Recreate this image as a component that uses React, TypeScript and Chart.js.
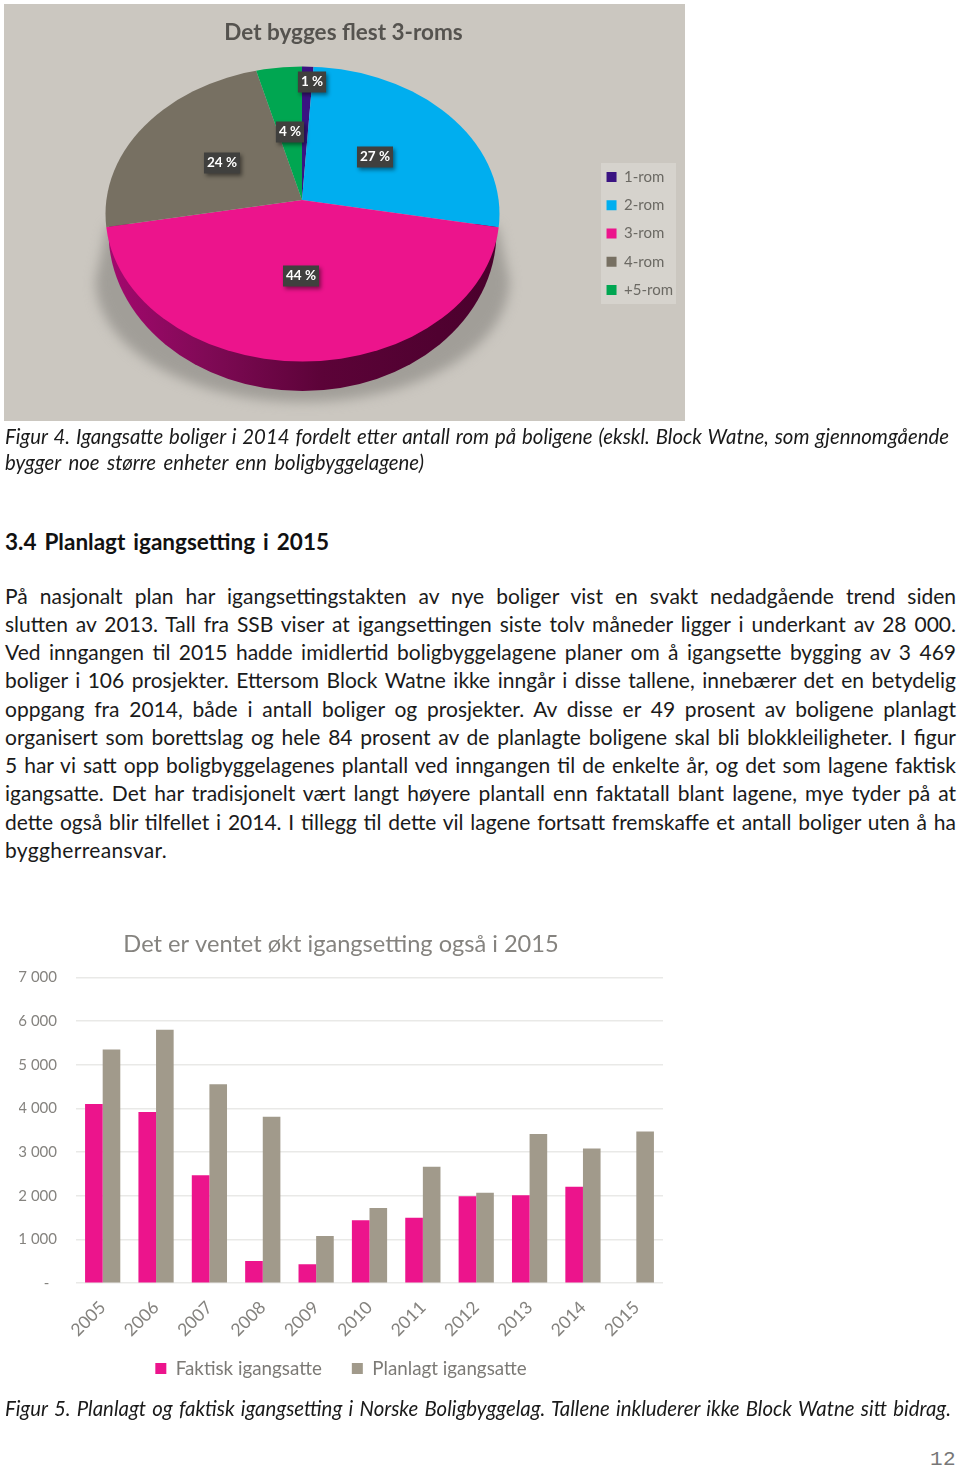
import React, { useEffect, useLayoutEffect, useRef } from "react";
import { Chart, registerables } from "chart.js";

Chart.register(...registerables);

// ---------- data ----------
const roomCategories = ["1-rom", "2-rom", "3-rom", "4-rom", "+5-rom"];
const roomShares = [1, 27, 44, 24, 4];
const roomColors = ["#3a1382", "#00aeef", "#ec148c", "#777062", "#00a651"];

const years = ["2005", "2006", "2007", "2008", "2009", "2010", "2011", "2012", "2013", "2014", "2015"];
const actualStarts = [4100, 3920, 2470, 510, 435, 1440, 1500, 1990, 2010, 2210, null];
const plannedStarts = [5350, 5800, 4555, 3810, 1080, 1720, 2665, 2070, 3415, 3080, 3469];

const captionFour = [
  "Figur 4. Igangsatte boliger i 2014 fordelt etter antall rom på boligene (ekskl. Block Watne, som gjennomgående",
  "bygger noe større enheter enn boligbyggelagene)",
];
const heading = "3.4 Planlagt igangsetting i 2015";
const bodyLines = [
  "På nasjonalt plan har igangsettingstakten av nye boliger vist en svakt nedadgående trend siden",
  "slutten av 2013. Tall fra SSB viser at igangsettingen siste tolv måneder ligger i underkant av 28 000.",
  "Ved inngangen til 2015 hadde imidlertid boligbyggelagene planer om å igangsette bygging av 3 469",
  "boliger i 106 prosjekter. Ettersom Block Watne ikke inngår i disse tallene, innebærer det en betydelig",
  "oppgang fra 2014, både i antall boliger og prosjekter. Av disse er 49 prosent av boligene planlagt",
  "organisert som borettslag og hele 84 prosent av de planlagte boligene skal bli blokkleiligheter. I figur",
  "5 har vi satt opp boligbyggelagenes plantall ved inngangen til de enkelte år, og det som lagene faktisk",
  "igangsatte. Det har tradisjonelt vært langt høyere plantall enn faktatall blant lagene, mye tyder på at",
  "dette også blir tilfellet i 2014. I tillegg til dette vil lagene fortsatt fremskaffe et antall boliger uten å ha",
  "byggherreansvar.",
];
const captionFive = "Figur 5. Planlagt og faktisk igangsetting i Norske Boligbyggelag. Tallene inkluderer ikke Block Watne sitt bidrag.";

// ---------- layout (pie panel coordinates) ----------
const PANEL = { x: 4, y: 4, w: 681, h: 417 };
const APEX = { x: 298, y: 196, sx: 200, sy: 145, over: 1.3 };
const TOP_FACE = { x: 298.5, y: 210, rx: 197, ry: 147.5 };
const WALL = { x: 298.5, y: 228, rx: 194, ry: 159 };
const SHADOW = { top: 222, edgeTopX: 195, edgeY: 276, rx: 207, ry: 122, blur: 6 };
const LABEL_SPOTS = [
  { x: 308, y: 78 },
  { x: 371, y: 153 },
  { x: 297, y: 272 },
  { x: 218, y: 159 },
  { x: 286, y: 128 },
];
const BAR_LEGEND_LIFT = 39;

const FONT = "Lato, sans-serif";

const piePerspective = {
  id: "piePerspective",
  beforeDraw(chart: any) {
    const { ctx, legend } = chart;
    ctx.save();
    ctx.fillStyle = "#cbc7c0";
    ctx.fillRect(0, 0, chart.width, chart.height);
    if (legend) {
      ctx.fillStyle = "#d6d3cd";
      ctx.fillRect(597, 159, 75, 141);
    }
    ctx.restore();
  },
  beforeDatasetsDraw(chart: any) {
    const { ctx } = chart;
    const g = ctx.createLinearGradient(WALL.x - WALL.rx, 0, WALL.x + WALL.rx, 0);
    g.addColorStop(0, "#a3086e");
    g.addColorStop(0.25, "#800a56");
    g.addColorStop(0.55, "#5c0338");
    g.addColorStop(1, "#4a002c");
    // ground shadow: a wedge on each side, then soft below the wall
    ctx.save();
    ctx.filter = `blur(${SHADOW.blur}px)`;
    ctx.fillStyle = "#a19e98";
    ctx.beginPath();
    ctx.moveTo(WALL.x - SHADOW.edgeTopX, SHADOW.top);
    ctx.lineTo(WALL.x - SHADOW.rx, SHADOW.edgeY);
    ctx.ellipse(WALL.x, SHADOW.edgeY, SHADOW.rx, SHADOW.ry, 0, Math.PI, 0, true);
    ctx.lineTo(WALL.x + SHADOW.edgeTopX, SHADOW.top);
    ctx.closePath();
    ctx.fill();
    ctx.restore();
    ctx.save();
    ctx.beginPath();
    ctx.ellipse(WALL.x, WALL.y, WALL.rx, WALL.ry, 0, 0, Math.PI * 2);
    ctx.clip();
    ctx.fillStyle = g;
    ctx.fillRect(WALL.x - WALL.rx, TOP_FACE.y + 10, WALL.rx * 2, WALL.ry * 2);
    ctx.restore();
  },
  beforeDatasetDraw(chart: any, args: any) {
    const arc = chart.getDatasetMeta(args.index).data[0];
    const { ctx } = chart;
    ctx.save();
    ctx.beginPath();
    ctx.ellipse(TOP_FACE.x, TOP_FACE.y, TOP_FACE.rx, TOP_FACE.ry, 0, 0, Math.PI * 2);
    ctx.clip();
    ctx.translate(APEX.x, APEX.y);
    ctx.scale((APEX.over * APEX.sx) / arc.outerRadius, (APEX.over * APEX.sy) / arc.outerRadius);
    ctx.translate(-arc.x, -arc.y);
  },
  afterDatasetDraw(chart: any) {
    chart.ctx.restore();
  },
  afterDatasetsDraw(chart: any) {
    const { ctx } = chart;
    const values = chart.data.datasets[0].data as number[];
    ctx.save();
    ctx.font = `bold 13.5px ${FONT}`;
    ctx.textAlign = "center";
    ctx.textBaseline = "middle";
    values.forEach((v, i) => {
      const text = `${v} %`;
      const spot = LABEL_SPOTS[i];
      const w = ctx.measureText(text).width + 6;
      const h = 21;
      ctx.save();
      ctx.shadowColor = "rgba(0,0,0,0.45)";
      ctx.shadowBlur = 4;
      ctx.shadowOffsetX = 2;
      ctx.shadowOffsetY = 2;
      ctx.fillStyle = "#40403e";
      ctx.fillRect(spot.x - w / 2, spot.y - h / 2, w, h);
      ctx.restore();
      ctx.fillStyle = "#ffffff";
      ctx.fillText(text, spot.x, spot.y);
    });
    ctx.restore();
  },
};

// the legend's wide item gap also widens its box; keep the axis labels clear of it
const liftBarLegend = {
  id: "liftBarLegend",
  afterLayout(chart: any) {
    chart.legend.top -= BAR_LEGEND_LIFT;
    chart.legend.bottom -= BAR_LEGEND_LIFT;
  },
};

function PieCanvas() {
  const ref = useRef<HTMLCanvasElement>(null);
  useEffect(() => {
    const chart = new Chart(ref.current!, {
      type: "pie",
      data: {
        labels: roomCategories,
        datasets: [{ data: roomShares, backgroundColor: roomColors, borderWidth: 0, clip: false } as any],
      },
      options: {
        animation: false,
        responsive: false,
        layout: { padding: { top: 0, right: 2, bottom: 0, left: 0 } },
        plugins: {
          title: {
            display: true,
            text: "Det bygges flest 3-roms",
            color: "#55534f",
            font: { family: FONT, size: 22.5, weight: "bold" },
            padding: { top: 15, bottom: 0 },
          },
          legend: {
            position: "right",
            fullSize: false,
            labels: {
              color: "#6b6963",
              font: { family: FONT, size: 15 },
              boxWidth: 10,
              boxHeight: 10,
              padding: 13.2,
            },
          },
          tooltip: { enabled: false },
        },
      },
      plugins: [piePerspective],
    } as any);
    return () => chart.destroy();
  }, []);
  return (
    <canvas
      ref={ref}
      width={PANEL.w}
      height={PANEL.h}
      style={{ position: "absolute", left: PANEL.x, top: PANEL.y, width: PANEL.w, height: PANEL.h }}
    />
  );
}

function BarCanvas() {
  const ref = useRef<HTMLCanvasElement>(null);
  useEffect(() => {
    const chart = new Chart(ref.current!, {
      type: "bar",
      data: {
        labels: years,
        datasets: [
          { label: "Faktisk igangsatte", data: actualStarts, backgroundColor: "#ec148c" },
          { label: "Planlagt igangsatte", data: plannedStarts, backgroundColor: "#a19a8b" },
        ],
      },
      options: {
        animation: false,
        responsive: false,
        layout: { padding: { top: 0, right: 17, bottom: 0, left: 19 } },
        datasets: { bar: { categoryPercentage: 0.66, barPercentage: 1 } },
        scales: {
          x: {
            grid: { display: false },
            border: { display: false },
            ticks: {
              color: "#85837f",
              font: { family: FONT, size: 17.5 },
              maxRotation: 45,
              minRotation: 45,
              padding: 6,
            },
            afterFit(s: any) {
              s.height = 85;
            },
          },
          y: {
            min: 0,
            max: 7000,
            grid: { color: "#e9e9e7", lineWidth: 1.5, tickLength: 0 },
            border: { display: false },
            ticks: {
              stepSize: 1000,
              color: "#85837f",
              font: { family: FONT, size: 15 },
              padding: 19,
              callback: (v: any) =>
                v === 0 ? "-  " : `${Math.floor(v / 1000)} ${String(v % 1000).padStart(3, "0")}`,
            },
            afterFit(s: any) {
              s.width = 57;
            },
          },
        },
        plugins: {
          title: {
            display: true,
            text: "Det er ventet økt igangsetting også i 2015",
            color: "#85837f",
            font: { family: FONT, size: 23.6, weight: "normal" },
            padding: { top: 4, bottom: 19 },
          },
          legend: {
            position: "bottom",
            labels: {
              color: "#7c7a76",
              font: { family: FONT, size: 18.8 },
              boxWidth: 11,
              boxHeight: 11,
              padding: 30,
            },
          },
          tooltip: { enabled: false },
        },
      },
      plugins: [liftBarLegend],
    } as any);
    return () => chart.destroy();
  }, []);
  return (
    <canvas
      ref={ref}
      width={680}
      height={501}
      style={{ position: "absolute", left: 0, top: 926, width: 680, height: 501 }}
    />
  );
}

function Line(props: {
  text: string;
  center: number;
  right: number;
  size?: number;
  italic?: boolean;
  bold?: boolean;
  family?: string;
  color?: string;
  left?: number;
}) {
  const ref = useRef<HTMLSpanElement>(null);
  const left = props.left ?? 5;
  useLayoutEffect(() => {
    const el = ref.current!;
    const natural = el.getBoundingClientRect().width;
    const target = props.right - left;
    const spaces = props.text.split(" ").length - 1;
    const gap = target - natural;
    if (gap >= 0 && spaces > 0) {
      el.style.wordSpacing = `${gap / spaces}px`;
    } else {
      el.style.letterSpacing = `${gap / props.text.length}px`;
    }
  }, []);
  const size = props.size ?? 21;
  return (
    <span
      ref={ref}
      style={{
        position: "absolute",
        left,
        top: props.center - 20,
        height: 40,
        lineHeight: "40px",
        whiteSpace: "pre",
        fontFamily: props.family ?? FONT,
        fontSize: size,
        fontStyle: props.italic ? "italic" : "normal",
        fontWeight: props.bold ? 700 : 400,
        color: props.color ?? "#1a1a1a",
      }}
    >
      {props.text}
    </span>
  );
}

const bodyCenters = [596, 624, 652, 680, 709, 737, 765, 793, 822, 850];
const bodyRights = [956, 956, 956, 956, 956, 956, 956, 956, 956, 167];

export default function App() {
  return (
    <div style={{ position: "absolute", left: 0, top: 0, width: 960, height: 1468, background: "#fff", overflow: "hidden" }}>
      <PieCanvas />
      <Line text={captionFour[0]} center={436} right={949} size={20.4} italic />
      <Line text={captionFour[1]} center={462} right={424} size={20.4} italic />
      <Line text={heading} center={542} right={329} size={22.5} bold color="#111" />
      {bodyLines.map((t, i) => (
        <Line key={i} text={t} center={bodyCenters[i]} right={bodyRights[i]} />
      ))}
      <BarCanvas />
      <Line text={captionFive} center={1408} right={951} size={20.4} italic />
      <Line text="12" center={1460} left={930} right={956} size={21} family="'Liberation Mono', monospace" color="#777" />
    </div>
  );
}
